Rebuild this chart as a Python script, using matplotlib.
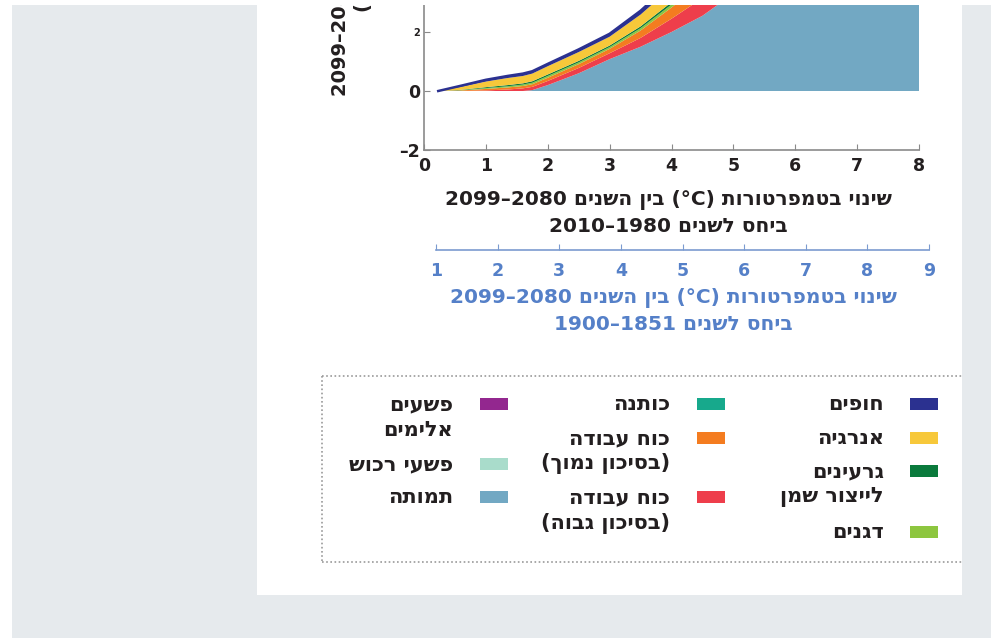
import re
import matplotlib
matplotlib.use("Agg")
import matplotlib.pyplot as plt
from matplotlib.patches import Rectangle
from matplotlib.lines import Line2D

plt.rcParams['font.family'] = ['DejaVu Sans', 'Liberation Sans']

# ---------------- data ----------------
temp_change = [0.23, 0.6, 1.0, 1.35, 1.6, 1.75, 2.0, 2.5, 3.0, 3.5, 4.0, 4.5, 5.0, 6.0, 8.0]
mortality   = [0.0, 0.0, 0.0, 0.0, 0.0, 0.03, 0.2, 0.6, 1.08, 1.5, 2.0, 2.55, 3.3, 4.6, 7.5]
labor_high  = [0.0, 0.0, 0.02, 0.05, 0.09, 0.11, 0.14, 0.18, 0.2, 0.3, 0.45, 0.6, 0.7, 0.9, 1.2]
labor_low   = [0.0, 0.02, 0.05, 0.07, 0.08, 0.09, 0.11, 0.13, 0.15, 0.25, 0.38, 0.5, 0.6, 0.75, 1.0]
grains      = [0.0, 0.01, 0.03, 0.04, 0.05, 0.05, 0.06, 0.06, 0.06, 0.08, 0.1, 0.12, 0.14, 0.18, 0.25]
oilcrops    = [0.0, 0.01, 0.03, 0.04, 0.04, 0.05, 0.05, 0.05, 0.05, 0.06, 0.08, 0.1, 0.12, 0.15, 0.2]
energy      = [0.0, 0.1, 0.19, 0.24, 0.25, 0.26, 0.28, 0.3, 0.3, 0.4, 0.5, 0.6, 0.7, 0.85, 1.1]
coasts      = [0.0, 0.04, 0.06, 0.07, 0.08, 0.08, 0.08, 0.09, 0.1, 0.13, 0.16, 0.2, 0.22, 0.26, 0.35]

x_ticks = [0, 1, 2, 3, 4, 5, 6, 7, 8]
y_ticks = [-2, 0, 2]
x2_ticks = [1, 2, 3, 4, 5, 6, 7, 8, 9]

xlabel_lines = ["שינוי בטמפרטורות (°C) בין השנים 2099–2080", "ביחס לשנים 2010–1980"]
x2label_lines = ["שינוי בטמפרטורות (°C) בין השנים 2099–2080", "ביחס לשנים 1900–1851"]
ylabel_lines = ["נזק ישיר כולל בשנים 2099–2080", "(% מהתוצר)"]

colors = {
    'coasts': '#2b3190', 'energy': '#f7c83a', 'oilcrops': '#0a7a3c', 'grains': '#8dc63f',
    'cotton': '#17a98c', 'labor_low': '#f47c20', 'labor_high': '#ee3e4b',
    'violent': '#93278f', 'property': '#a9dccb', 'mortality': '#72a8c3',
}
legend_cols = [
    [("חופים", 'coasts'), ("אנרגיה", 'energy'), ("גרעינים\nלייצור שמן", 'oilcrops'), ("דגנים", 'grains')],
    [("כותנה", 'cotton'), ("כוח עבודה\n(בסיכון נמוך)", 'labor_low'), ("כוח עבודה\n(בסיכון גבוה)", 'labor_high')],
    [("פשעים\nאלימים", 'violent'), ("פשעי רכוש", 'property'), ("תמותה", 'mortality')],
]

# ---------------- helpers ----------------
W, H = 991, 639
def fx(x): return x / W
def fy(y): return 1 - y / H

def visual(s):
    """Convert a logical RTL string into visual (left-to-right) order for rendering."""
    r = s[::-1]
    r = re.sub(r'[0-9A-Za-z°–\-.%]+', lambda m: m.group(0)[::-1], r)
    r = r.translate(str.maketrans('()', ')('))
    return r

BLACK = '#231f20'
BLUE_T = '#5580c8'

fig = plt.figure(figsize=(W / 100, H / 100), dpi=100)
fig.patch.set_facecolor('white')
fig.add_artist(Rectangle((fx(12), fy(638)), fx(991 - 12), (638 - 5) / H,
                         transform=fig.transFigure, facecolor='#e6eaed', edgecolor='none', zorder=-20))
fig.add_artist(Rectangle((fx(257), fy(595)), fx(962 - 257), (595 - 5) / H,
                         transform=fig.transFigure, facecolor='white', edgecolor='none', zorder=-19))

# ---------------- main axes ----------------
ax = fig.add_axes([fx(424), fy(150), fx(919 - 424), (150 + 27) / H])
ax.set_facecolor('none')
stack = [mortality, labor_high, labor_low, grains, oilcrops, energy, coasts]
stack_cols = [colors[k] for k in ['mortality', 'labor_high', 'labor_low', 'grains', 'oilcrops', 'energy', 'coasts']]
ax.stackplot(temp_change, *stack, colors=stack_cols, linewidth=0)
top = [sum(v) for v in zip(*stack)]
ax.plot(temp_change, top, color=colors['coasts'], lw=1.8, solid_joinstyle='round')
ax.set_xlim(0, 8)
ax.set_ylim(-2, 4)
for s in ['top', 'right']:
    ax.spines[s].set_visible(False)
for s in ['left', 'bottom']:
    ax.spines[s].set_color('#8a8a8a')
    ax.spines[s].set_linewidth(1.2)
ax.set_xticks(x_ticks)
ax.set_yticks(y_ticks)
ax.set_xticklabels([str(t) for t in x_ticks])
ax.set_yticklabels(['–2', '0', '2'])
ax.tick_params(axis='both', direction='in', length=4, color='#8a8a8a', labelcolor=BLACK)
ax.tick_params(axis='x', pad=5, labelsize=12.5)
ax.tick_params(axis='y', pad=3, labelsize=12.5)
for lab in ax.get_xticklabels() + ax.get_yticklabels():
    lab.set_fontweight('bold')
ax.get_yticklabels()[2].set_fontsize(7)

# ---------------- secondary axis ----------------
ax2 = fig.add_axes([fx(436), fy(250), fx(929 - 436), 0.0005])
ax2.set_facecolor('none')
ax2.set_xlim(1, 9)
ax2.set_yticks([])
for s in ['top', 'right', 'left']:
    ax2.spines[s].set_visible(False)
ax2.spines['bottom'].set_color('#7b9bd0')
ax2.spines['bottom'].set_linewidth(1.2)
ax2.set_xticks(x2_ticks)
ax2.set_xticklabels([str(t) for t in x2_ticks])
ax2.tick_params(axis='x', direction='in', length=4, color='#7b9bd0', labelcolor=BLUE_T,
                labelsize=12.5, pad=9)
for lab in ax2.get_xticklabels():
    lab.set_fontweight('bold')

# ---------------- axis labels ----------------
for i, line in enumerate(xlabel_lines):
    fig.text(fx(668), fy(200 + 27 * i), visual(line), ha='center', va='center',
             fontsize=14.5, fontweight='bold', color=BLACK)
for i, line in enumerate(x2label_lines):
    fig.text(fx(673), fy(298 + 26 * i), visual(line), ha='center', va='center',
             fontsize=14.5, fontweight='bold', color=BLUE_T)
fig.text(fx(340), fy(96), visual(ylabel_lines[0]), rotation=90, ha='center', va='bottom',
         fontsize=14, fontweight='bold', color=BLACK)
fig.text(fx(364), fy(12), visual(ylabel_lines[1]), rotation=90, ha='center', va='bottom',
         fontsize=14, fontweight='bold', color=BLACK)

# ---------------- legend ----------------
dot = dict(color='#9a9a9a', lw=1.2, ls=(0, (1, 1.5)), transform=fig.transFigure)
fig.add_artist(Line2D([fx(322), fx(962)], [fy(376), fy(376)], **dot))
fig.add_artist(Line2D([fx(322), fx(962)], [fy(562), fy(562)], **dot))
fig.add_artist(Line2D([fx(322), fx(322)], [fy(376), fy(562)], **dot))

col_geom = [(910, 884), (697, 670), (480, 453)]
col_rows = [[404, 438, 471, 532], [404, 438, 497], [404, 464, 497]]
for (sw_x, tx), items, rows in zip(col_geom, legend_cols, col_rows):
    for (label, key), yy in zip(items, rows):
        fig.add_artist(Rectangle((fx(sw_x), fy(yy + 6)), fx(28), 12 / H, transform=fig.transFigure,
                                 facecolor=colors[key], edgecolor='none'))
        for j, ln in enumerate(label.split('\n')):
            fig.text(fx(tx), fy(yy + 26 * j), visual(ln), ha='right', va='center',
                     fontsize=15, fontweight='bold', color=BLACK)

fig.add_artist(Rectangle((0, fy(5)), 1, 5 / H, transform=fig.transFigure,
                         facecolor='white', edgecolor='none', zorder=50))

fig.savefig('out.png', dpi=100)
